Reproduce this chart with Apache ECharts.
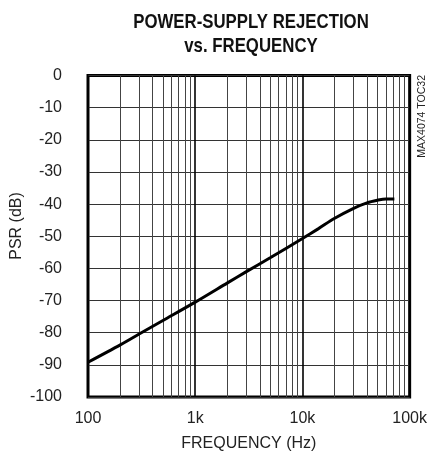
<!DOCTYPE html>
<html>
<head>
<meta charset="utf-8">
<script src="https://cdn.jsdelivr.net/npm/echarts@6/dist/echarts.min.js"></script>
<style>
html,body{margin:0;padding:0;background:#fff;}
#c{width:430px;height:457px;}
</style>
</head>
<body>
<div id="c"></div>
<script>
var titleLines = ['POWER-SUPPLY REJECTION', 'vs. FREQUENCY'];
var xAxisName = 'FREQUENCY (Hz)';
var yAxisName = 'PSR (dB)';
var noteText = 'MAX4074 TOC32';

var frequency = [100, 200, 300, 500, 1000, 2000, 3000, 5000, 10000, 14000, 20000, 30000, 40000, 50000, 60000, 72000];
var psr = [-89.2, -83.8, -80.4, -76.2, -70.5, -64.5, -61.0, -56.7, -50.7, -47.7, -44.4, -41.3, -39.6, -38.8, -38.4, -38.4];

var xTickLabels = {100: '100', 1000: '1k', 10000: '10k', 100000: '100k'};
var minorFreqs = [200,300,400,500,600,700,800,900,2000,3000,4000,5000,6000,7000,8000,9000,20000,30000,40000,50000,60000,70000,80000,90000];

var FONT = '"Liberation Sans", Arial, sans-serif';

var chart = echarts.init(document.getElementById('c'), null, {renderer: 'canvas'});
chart.setOption({
  animation: false,
  backgroundColor: '#fff',
  grid: {left: 88, right: 16, top: 75.5, bottom: 56, show: true, borderColor: '#000', borderWidth: 3, backgroundColor: 'transparent'},
  xAxis: {
    type: 'log', logBase: 10, min: 100, max: 100000,
    name: xAxisName, nameLocation: 'middle', nameGap: 39,
    nameTextStyle: {fontFamily: FONT, fontSize: 16, color: '#222'},
    axisLine: {show: false}, axisTick: {show: false},
    axisLabel: {margin: 14, fontFamily: FONT, fontSize: 16, color: '#222',
      formatter: function (v) { return xTickLabels[Math.round(v)] || ''; }},
    splitLine: {show: true, lineStyle: {color: '#000', width: 1.6}}
  },
  yAxis: {
    type: 'value', min: -100, max: 0, interval: 10,
    axisLine: {show: false}, axisTick: {show: false},
    axisLabel: {margin: 26, fontFamily: FONT, fontSize: 16, color: '#222'},
    splitLine: {show: true, lineStyle: {color: '#333', width: 1}}
  },
  graphic: [
    {type: 'text', x: 251, y: 22, scaleX: 0.8,
     style: {text: titleLines[0], fontFamily: FONT, fontWeight: 'bold', fontSize: 21, fill: '#111', textAlign: 'center', textVerticalAlign: 'middle'}},
    {type: 'text', x: 251, y: 46.5, scaleX: 0.8,
     style: {text: titleLines[1], fontFamily: FONT, fontWeight: 'bold', fontSize: 21, fill: '#111', textAlign: 'center', textVerticalAlign: 'middle'}},
    {type: 'text', x: 17, y: 226, rotation: Math.PI / 2,
     style: {text: yAxisName, fontFamily: FONT, fontSize: 16, fill: '#222', textAlign: 'center', textVerticalAlign: 'middle'}},
    {type: 'text', x: 422, y: 75, rotation: Math.PI / 2,
     style: {text: noteText, fontFamily: FONT, fontSize: 10.5, fill: '#222', textAlign: 'right', textVerticalAlign: 'middle'}}
  ],
  series: [{
    type: 'line',
    data: frequency.map(function (f, i) { return [f, psr[i]]; }),
    showSymbol: false, smooth: 0.3,
    lineStyle: {color: '#000', width: 3},
    z: 5,
    markLine: {
      silent: true, symbol: ['none', 'none'], label: {show: false},
      lineStyle: {color: '#444', width: 1, type: 'solid'},
      data: minorFreqs.map(function (f) { return {xAxis: f}; }),
      z: 1
    }
  }]
});
</script>
</body>
</html>
